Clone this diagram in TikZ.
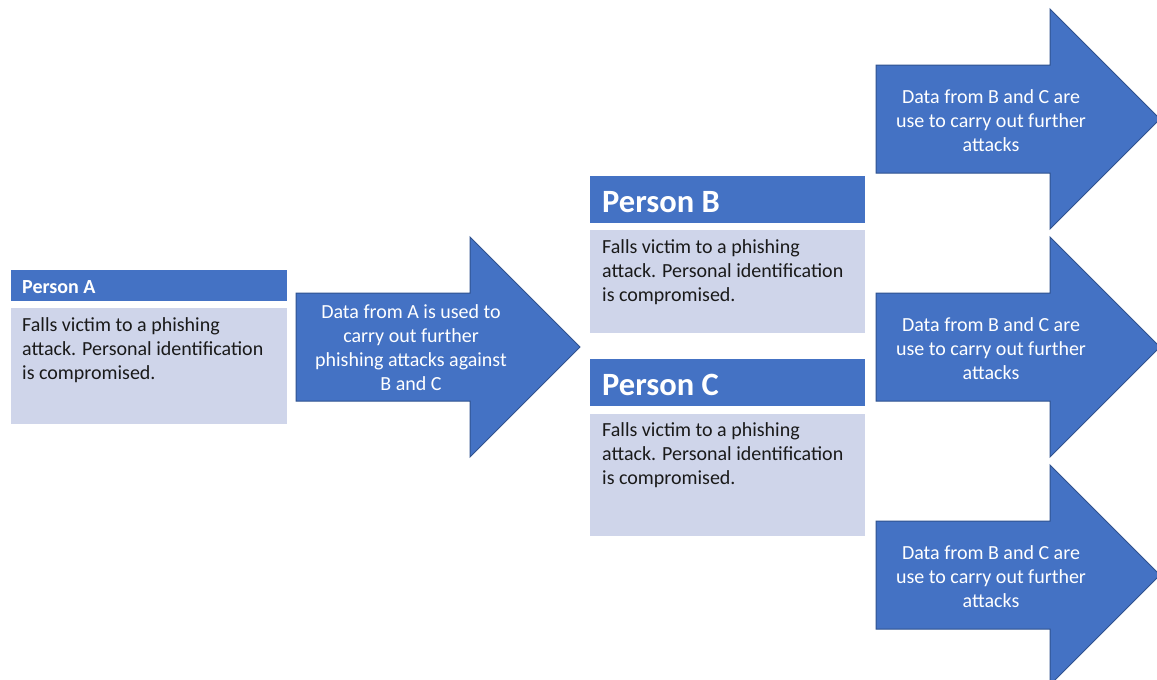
\documentclass[tikz,border=0pt]{standalone}
\usepackage{fontspec}
\setmainfont{Carlito}
\definecolor{hdr}{HTML}{4472C4}
\definecolor{bodyc}{HTML}{CFD5EA}
\definecolor{edgec}{HTML}{2F528F}
\definecolor{txt}{HTML}{1A1A1A}
\begin{document}
\begin{tikzpicture}[x=1pt,y=-1pt,
  hdrbox/.style={fill=hdr,draw=white,line width=0.6pt},
  bodybox/.style={fill=bodyc,draw=white,line width=0.6pt},
  arrowshape/.style={fill=hdr,draw=edgec,line width=1pt,line join=miter},
  bodytext/.style={anchor=north west,inner sep=0pt,align=left,text=txt,font=\fontsize{20}{24}\selectfont},
  smallhead/.style={anchor=west,inner sep=0pt,text=white,font=\fontsize{20}{22}\selectfont\bfseries},
  bighead/.style={anchor=west,inner sep=0pt,text=white,font=\fontsize{32.5}{34}\selectfont\bfseries},
  arrowtext/.style={anchor=center,inner sep=0pt,align=center,text=white,font=\fontsize{20}{24}\selectfont}]
\useasboundingbox (0,0) rectangle (1157,680);
\clip (0,0) rectangle (1157,680);
\fill[white] (0,0) rectangle (1157,680);

% Person A
\path[hdrbox] (10,269) rectangle (287,301);
\path[bodybox] (10,307) rectangle (287,424);
\node[smallhead] (hA) at (22,287.5) {Person A};
\node[bodytext] (tA) at (22,317) {Falls victim to a phishing\\attack. Personal identification\\is compromised.};

% Arrow A
\path[arrowshape] (296,293) -- (470,293) -- (470,237) -- (580,347) -- (470,457) -- (470,401) -- (296,401) -- cycle;
\node[arrowtext] (aA) at (411,348) {Data from A is used to\\carry out further\\phishing attacks against\\B and C};

% Person B
\path[hdrbox] (589,175) rectangle (865,223);
\path[bodybox] (589,229) rectangle (865,333);
\node[bighead] (hB) at (602,202) {Person B};
\node[bodytext] (tB) at (602,239) {Falls victim to a phishing\\attack. Personal identification\\is compromised.};

% Person C
\path[hdrbox] (589,358) rectangle (865,406);
\path[bodybox] (589,413) rectangle (865,536);
\node[bighead] (hC) at (602,385) {Person C};
\node[bodytext] (tC) at (602,422) {Falls victim to a phishing\\attack. Personal identification\\is compromised.};

% Right arrows
\foreach \cy/\nm in {119/r1,347/r2,575/r3}{
  \path[arrowshape] (876,\cy-54) -- (1050,\cy-54) -- (1050,\cy-110) -- (1160,\cy) -- (1050,\cy+110) -- (1050,\cy+54) -- (876,\cy+54) -- cycle;
  \node[arrowtext] (\nm) at (991,\cy+1.5) {Data from B and C are\\use to carry out further\\attacks};
}
\end{tikzpicture}
\end{document}
